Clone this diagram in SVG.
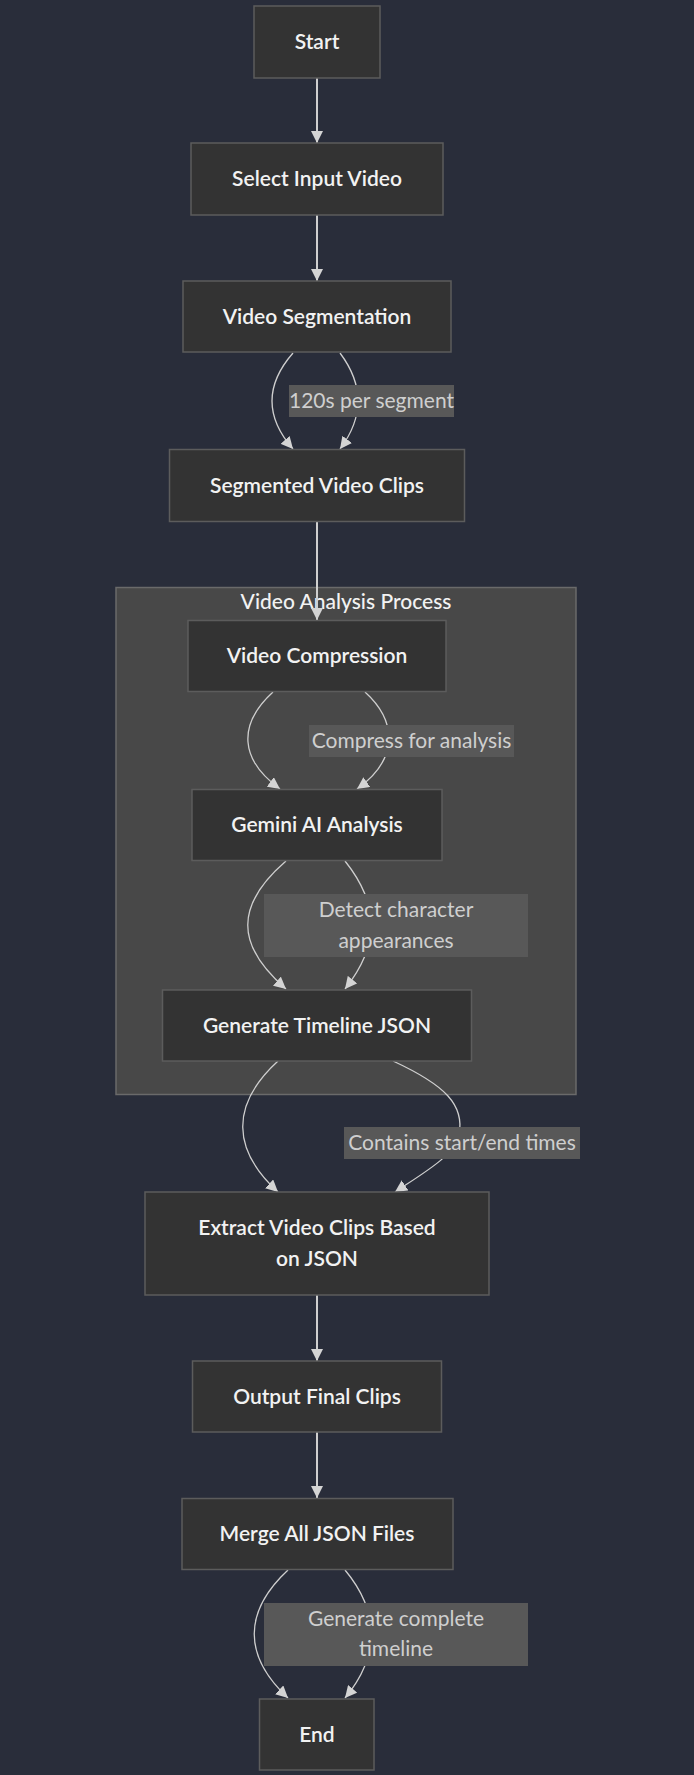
<svg xmlns="http://www.w3.org/2000/svg" width="694" height="1775" viewBox="0 0 694 1775">
<style>
.node rect{fill:#333333;stroke:#5c5c5c;stroke-width:1.5}
.nt{font-family:Lato,"Open Sans","Noto Sans",sans-serif;font-size:21px;font-weight:600;fill:#f2f2f2;text-anchor:middle}
.lt{font-family:Lato,"Open Sans","Noto Sans",sans-serif;font-size:21px;fill:#cfcfcf;text-anchor:middle}
.lb{fill:#585858}
.edge{fill:none;stroke:#cfcfcf;stroke-width:1.3}
.edge.s{stroke-width:2}
</style>
<defs>
<marker id="ah" viewBox="0 0 10 10" refX="10" refY="5" markerWidth="12" markerHeight="12" markerUnits="userSpaceOnUse" orient="auto">
<path d="M0,0 L10,5 L0,10 z" fill="#d4d4d4"/>
</marker>
</defs>
<rect width="694" height="1775" fill="#292d3a"/>
<g id="cluster_analysis">
<rect x="116" y="587.5" width="460" height="507" fill="#484848" stroke="#6a6a6a" stroke-width="1.5"/>
<text class="nt" x="346" y="609" style="font-weight:500">Video Analysis Process</text>
</g>
<g id="edges">
<path class="edge s" d="M317,78 L317,143" marker-end="url(#ah)"/>
<path class="edge s" d="M317,215 L317,281" marker-end="url(#ah)"/>
<path class="edge" d="M293,353 C265,385 265,417 293,449" marker-end="url(#ah)"/>
<path class="edge" d="M340,353 C364,385 364,417 340,449" marker-end="url(#ah)"/>
<path class="edge s" d="M317,522 L317,620" marker-end="url(#ah)"/>
<path class="edge" d="M273,692 C237,725 240,760 280,789" marker-end="url(#ah)"/>
<path class="edge" d="M365,692 C398,722 398,760 357,789" marker-end="url(#ah)"/>
<path class="edge" d="M286,861 C235,905 235,945 286,989" marker-end="url(#ah)"/>
<path class="edge" d="M345,861 C380,905 380,945 345,989" marker-end="url(#ah)"/>
<path class="edge" d="M278,1061 C230,1105 232,1150 278,1192" marker-end="url(#ah)"/>
<path class="edge" d="M393,1061 C445,1085 465,1105 459,1135 C455,1155 425,1172 395,1192" marker-end="url(#ah)"/>
<path class="edge s" d="M317,1295 L317,1361" marker-end="url(#ah)"/>
<path class="edge s" d="M317,1432 L317,1498" marker-end="url(#ah)"/>
<path class="edge" d="M288,1570 C243,1612 243,1656 288,1698" marker-end="url(#ah)"/>
<path class="edge" d="M345,1570 C380,1612 380,1656 345,1698" marker-end="url(#ah)"/>
</g>
<g id="edge_labels">
<g id="l1"><rect class="lb" x="289" y="385" width="165" height="32"/><text class="lt" x="371.5" y="408">120s per segment</text></g>
<g id="l2"><rect class="lb" x="309" y="725" width="205" height="32"/><text class="lt" x="411.5" y="748">Compress for analysis</text></g>
<g id="l3"><rect class="lb" x="264" y="894" width="264" height="63"/><text class="lt" x="396" y="917">Detect character</text><text class="lt" x="396" y="948">appearances</text></g>
<g id="l4"><rect class="lb" x="344" y="1127" width="236" height="32"/><text class="lt" x="462" y="1150">Contains start/end times</text></g>
<g id="l5"><rect class="lb" x="264" y="1603" width="264" height="63"/><text class="lt" x="396" y="1626">Generate complete</text><text class="lt" x="396" y="1656">timeline</text></g>
</g>
<g id="start" class="node"><rect x="254" y="6" width="126" height="72"/><text class="nt" x="317" y="49">Start</text></g>
<g id="select" class="node"><rect x="191" y="143" width="252" height="72"/><text class="nt" x="317" y="186">Select Input Video</text></g>
<g id="segmentation" class="node"><rect x="183" y="281" width="268" height="71"/><text class="nt" x="317" y="323.5">Video Segmentation</text></g>
<g id="segclips" class="node"><rect x="169.5" y="449.5" width="295" height="72"/><text class="nt" x="317" y="492.5">Segmented Video Clips</text></g>
<g id="compression" class="node"><rect x="188" y="620.5" width="258" height="71"/><text class="nt" x="317" y="663">Video Compression</text></g>
<g id="gemini" class="node"><rect x="192" y="789.5" width="250" height="71"/><text class="nt" x="317" y="832">Gemini AI Analysis</text></g>
<g id="timeline" class="node"><rect x="162.5" y="990" width="309" height="71"/><text class="nt" x="317" y="1032.5">Generate Timeline JSON</text></g>
<g id="extract" class="node"><rect x="145" y="1192" width="344" height="103"/><text class="nt" x="317" y="1235">Extract Video Clips Based</text><text class="nt" x="317" y="1266">on JSON</text></g>
<g id="output" class="node"><rect x="192.5" y="1361" width="249" height="71"/><text class="nt" x="317" y="1403.5">Output Final Clips</text></g>
<g id="merge" class="node"><rect x="182" y="1498.5" width="271" height="71"/><text class="nt" x="317" y="1541">Merge All JSON Files</text></g>
<g id="end" class="node"><rect x="259.5" y="1699" width="114.5" height="71"/><text class="nt" x="317" y="1741.5">End</text></g>
</svg>
